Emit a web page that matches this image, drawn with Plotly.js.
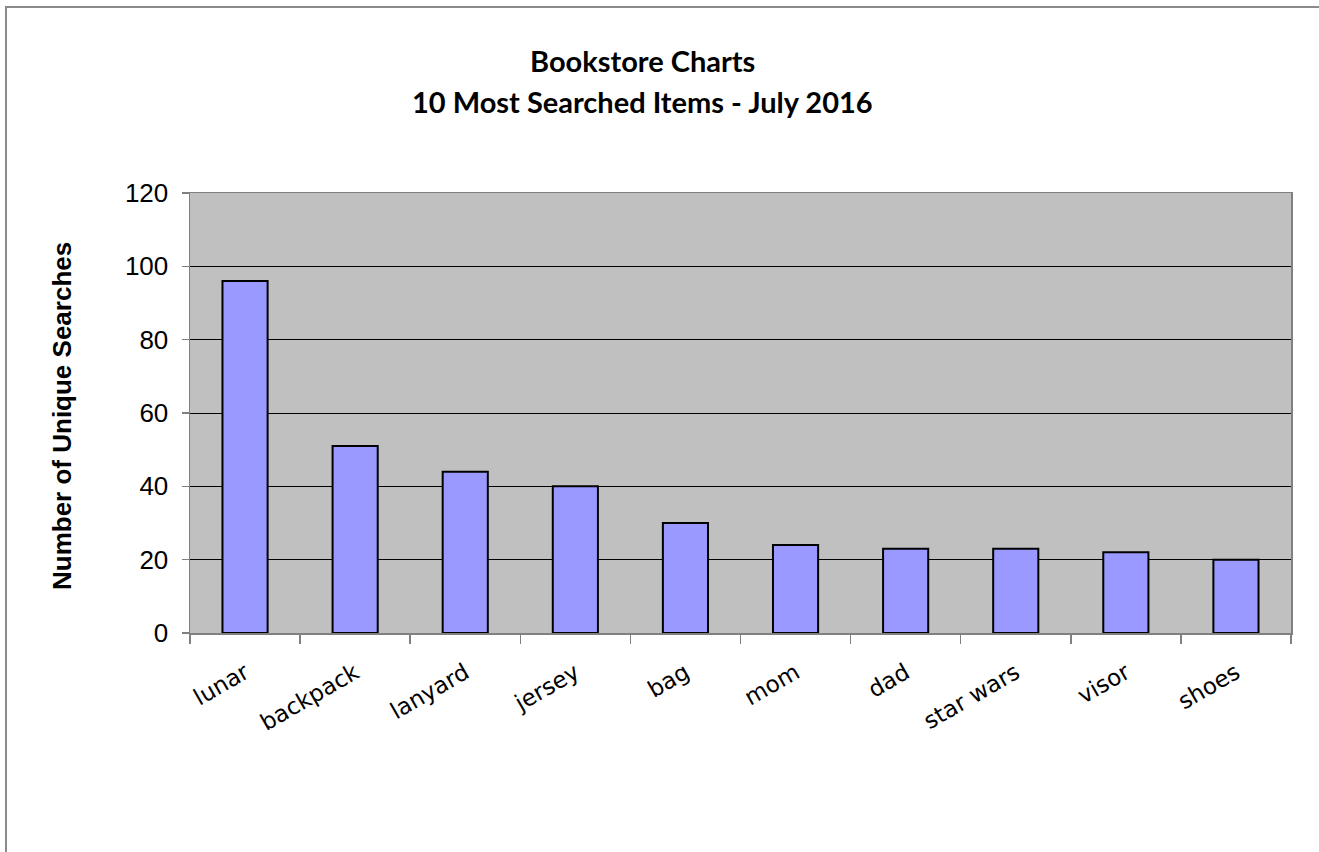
<!DOCTYPE html>
<html>
<head>
<meta charset="utf-8">
<script src="https://cdn.plot.ly/plotly-3.0.1.min.js"></script>
<style>
html,body{margin:0;padding:0;background:#fff;}
#wrap{position:relative;width:1319px;height:852px;overflow:hidden;}
#chart{position:absolute;left:0;top:0;width:1319px;height:852px;}
#frame{position:absolute;left:5px;top:6px;width:1400px;height:900px;border-top:2px solid #8a8a8a;border-left:2px solid #8a8a8a;pointer-events:none;}
</style>
</head>
<body>
<div id="wrap"><div id="chart"></div><div id="frame"></div></div>
<script>
const categories = ["lunar","backpack","lanyard","jersey","bag","mom","dad","star wars","visor","shoes"];
const searches = [96, 51, 44, 40, 30, 24, 23, 23, 22, 20];
const titleLine1 = "Bookstore Charts";
const titleLine2 = "10 Most Searched Items - July 2016";
const yTitle = "Number of Unique Searches";
const yTicks = [0,20,40,60,80,100,120];

const L=190, R=28, T=193, B=219, H=852, W=1319;
const plotH = H-T-B, plotW = W-L-R;
function py(p){ return (H-B-p)/plotH; }
function px(p){ return (p-L)/plotW; }

const trace = {
  type:'bar', x:categories, y:searches,
  marker:{color:'#9999FF', line:{color:'#000', width:2}},
  width:0.41, hoverinfo:'none'
};
const layout = {
  width:W, height:H,
  margin:{l:L, r:R, t:T, b:B, pad:0},
  paper_bgcolor:'rgba(0,0,0,0)', plot_bgcolor:'#C0C0C0',
  showlegend:false,
  xaxis:{type:'category', tickson:'boundaries', ticks:'outside', ticklen:9, tickcolor:'#808080', tickwidth:1.5,
         showline:true, linecolor:'#808080', linewidth:1.5, mirror:true, showgrid:false,
         tickangle:-30, tickfont:{family:'DejaVu Sans', size:23, color:'#000'}, ticklabelstandoff:16},
  yaxis:{range:[0,120], tickvals:yTicks, ticks:'outside', ticklen:7, tickcolor:'#808080', tickwidth:1.5,
         showline:true, linecolor:'#808080', linewidth:1.5, mirror:true,
         showgrid:true, gridcolor:'#000', gridwidth:1, zeroline:false,
         tickfont:{family:'Liberation Sans, Arial', size:26, color:'#000'}, ticklabelstandoff:8},
  annotations:[
    {text:'<b>'+titleLine1+'</b>', xref:'paper', yref:'paper', x:px(642), y:py(61), xanchor:'center', yanchor:'middle', showarrow:false,
     font:{family:'Lato, Open Sans', size:29, color:'#000'}},
    {text:'<b>'+titleLine2+'</b>', xref:'paper', yref:'paper', x:px(642), y:py(101), xanchor:'center', yanchor:'middle', showarrow:false,
     font:{family:'Lato, Open Sans', size:29, color:'#000'}},
    {text:'<b>'+yTitle+'</b>', xref:'paper', yref:'paper', x:px(62), y:py(416), xanchor:'center', yanchor:'middle', textangle:-90, showarrow:false,
     font:{family:'Liberation Sans, Arial', size:26, color:'#000'}}
  ]
};
Plotly.newPlot('chart',[trace],layout,{staticPlot:true, displayModeBar:false});
</script>
</body>
</html>
